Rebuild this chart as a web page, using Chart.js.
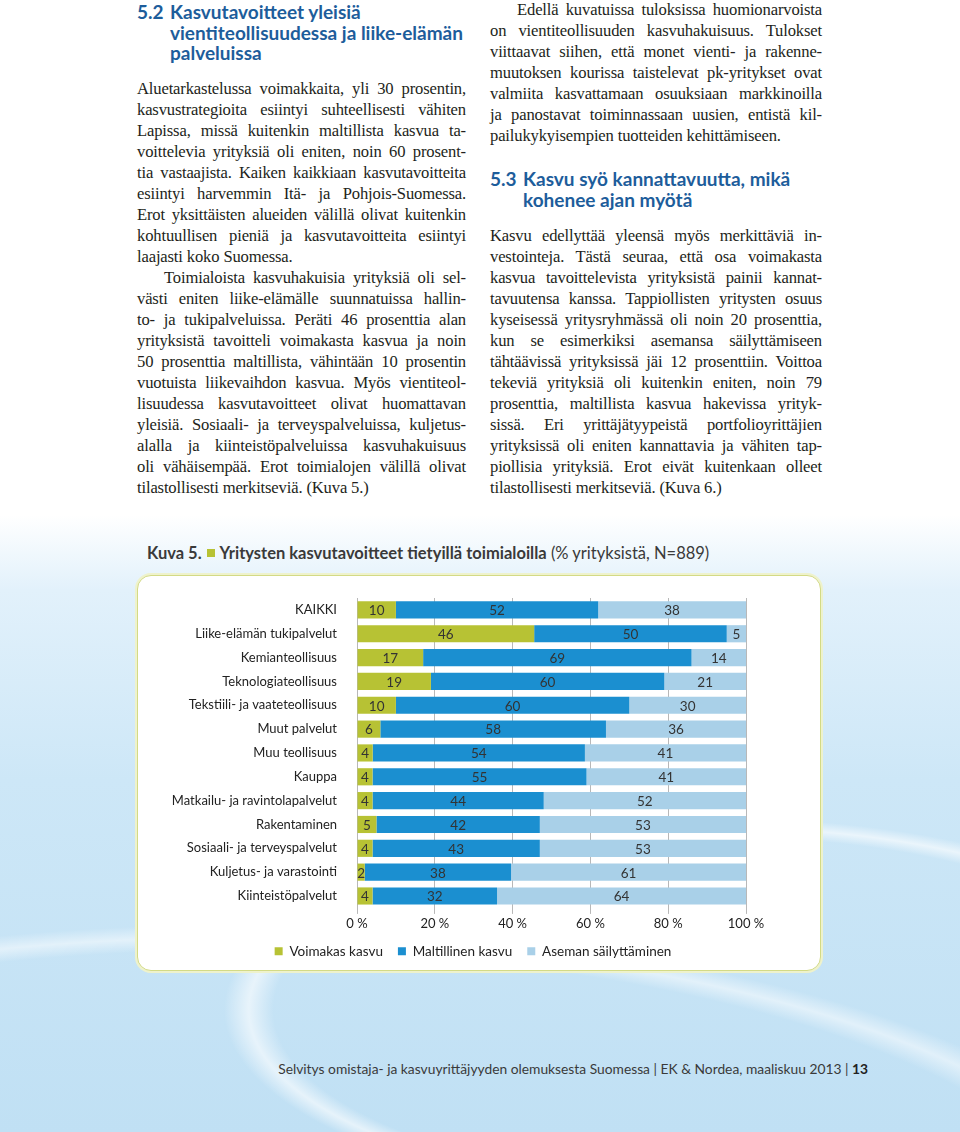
<!DOCTYPE html>
<html lang="fi">
<head>
<meta charset="utf-8">
<script src="https://cdn.jsdelivr.net/npm/chart.js@4.4.0/dist/chart.umd.min.js"></script>
<style>
body{margin:0;width:960px;height:1132px;position:relative;overflow:hidden;
  background:
   radial-gradient(ellipse 620px 240px at 75% 1010px, rgba(255,255,255,0) 72%, rgba(255,255,255,.6) 76%, rgba(255,255,255,0) 80%),
   radial-gradient(ellipse 1200px 430px at 25% 1260px, rgba(255,255,255,0) 72%, rgba(255,255,255,.5) 75%, rgba(255,255,255,0) 78%),
   linear-gradient(180deg,#fff 0,#fff 515px,#e2f1fb 590px,#cde7f7 780px,#c0e0f4 1132px);}
.col{position:absolute;font-family:"Liberation Serif","Times New Roman",serif;font-size:16.6px;letter-spacing:-0.15px;color:#231f20;}
.ln{height:21px;line-height:21px;text-align:justify;text-align-last:justify;overflow:visible;}
.ln.end{text-align-last:left;}
.ln.ind{text-indent:27px;}
.hd{position:absolute;font-family:Lato,sans-serif;font-weight:700;font-size:19px;color:#1d5d9b;line-height:20.5px;white-space:nowrap;}
.hd .n{display:inline-block;width:33px;}
.hd .r{padding-left:33px;}
.cap{position:absolute;left:147px;top:543px;font-family:Lato,sans-serif;font-size:16.5px;color:#3a3a3a;white-space:nowrap;}
.cap b{font-weight:700;}
.cap .sq{display:inline-block;width:8px;height:8px;background:#b7c234;margin:0 5px 2px 5px;}
.box{position:absolute;left:137px;top:575px;width:682px;height:394px;background:#fff;border:1.5px solid #d3da86;border-radius:14px;box-shadow:0 0 0 2px #eef2cc;}
#wrap{position:absolute;left:138px;top:577px;width:684px;height:391px;}
.foot{position:absolute;right:92px;top:1060px;font-family:Lato,sans-serif;font-size:13.8px;color:#3a3a3a;white-space:nowrap;}
.foot b{font-weight:700;color:#222;}
</style>
</head>
<body>

<div class="hd" style="left:137px;top:2px;">
  <div><span class="n">5.2</span>Kasvutavoitteet yleisiä</div>
  <div class="r">vientiteollisuudessa ja liike-elämän</div>
  <div class="r">palveluissa</div>
</div>

<div class="col" style="left:137px;top:77.5px;width:329px;">
  <div class="ln">Aluetarkastelussa voimakkaita, yli 30 prosentin,</div>
  <div class="ln">kasvustrategioita esiintyi suhteellisesti vähiten</div>
  <div class="ln">Lapissa, missä kuitenkin maltillista kasvua ta-</div>
  <div class="ln">voittelevia yrityksiä oli eniten, noin 60 prosent-</div>
  <div class="ln">tia vastaajista. Kaiken kaikkiaan kasvutavoitteita</div>
  <div class="ln">esiintyi harvemmin Itä- ja Pohjois-Suomessa.</div>
  <div class="ln">Erot yksittäisten alueiden välillä olivat kuitenkin</div>
  <div class="ln">kohtuullisen pieniä ja kasvutavoitteita esiintyi</div>
  <div class="ln end">laajasti koko Suomessa.</div>
  <div class="ln ind">Toimialoista kasvuhakuisia yrityksiä oli sel-</div>
  <div class="ln">västi eniten liike-elämälle suunnatuissa hallin-</div>
  <div class="ln">to- ja tukipalveluissa. Peräti 46 prosenttia alan</div>
  <div class="ln">yrityksistä tavoitteli voimakasta kasvua ja noin</div>
  <div class="ln">50 prosenttia maltillista, vähintään 10 prosentin</div>
  <div class="ln">vuotuista liikevaihdon kasvua. Myös vientiteol-</div>
  <div class="ln">lisuudessa kasvutavoitteet olivat huomattavan</div>
  <div class="ln">yleisiä. Sosiaali- ja terveyspalveluissa, kuljetus-</div>
  <div class="ln">alalla ja kiinteistöpalveluissa kasvuhakuisuus</div>
  <div class="ln">oli vähäisempää. Erot toimialojen välillä olivat</div>
  <div class="ln end">tilastollisesti merkitseviä. (Kuva 5.)</div>
</div>

<div class="col" style="left:490px;top:-1.5px;width:332px;">
  <div class="ln ind">Edellä kuvatuissa tuloksissa huomionarvoista</div>
  <div class="ln">on vientiteollisuuden kasvuhakuisuus. Tulokset</div>
  <div class="ln">viittaavat siihen, että monet vienti- ja rakenne-</div>
  <div class="ln">muutoksen kourissa taistelevat pk-yritykset ovat</div>
  <div class="ln">valmiita kasvattamaan osuuksiaan markkinoilla</div>
  <div class="ln">ja panostavat toiminnassaan uusien, entistä kil-</div>
  <div class="ln end">pailukykyisempien tuotteiden kehittämiseen.</div>
</div>

<div class="hd" style="left:490px;top:169px;">
  <div><span class="n">5.3</span>Kasvu syö kannattavuutta, mikä</div>
  <div class="r">kohenee ajan myötä</div>
</div>

<div class="col" style="left:490px;top:224.5px;width:332px;">
  <div class="ln">Kasvu edellyttää yleensä myös merkittäviä in-</div>
  <div class="ln">vestointeja. Tästä seuraa, että osa voimakasta</div>
  <div class="ln">kasvua tavoittelevista yrityksistä painii kannat-</div>
  <div class="ln">tavuutensa kanssa. Tappiollisten yritysten osuus</div>
  <div class="ln">kyseisessä yritysryhmässä oli noin 20 prosenttia,</div>
  <div class="ln">kun se esimerkiksi asemansa säilyttämiseen</div>
  <div class="ln">tähtäävissä yrityksissä jäi 12 prosenttiin. Voittoa</div>
  <div class="ln">tekeviä yrityksiä oli kuitenkin eniten, noin 79</div>
  <div class="ln">prosenttia, maltillista kasvua hakevissa yrityk-</div>
  <div class="ln">sissä. Eri yrittäjätyypeistä portfolioyrittäjien</div>
  <div class="ln">yrityksissä oli eniten kannattavia ja vähiten tap-</div>
  <div class="ln">piollisia yrityksiä. Erot eivät kuitenkaan olleet</div>
  <div class="ln end">tilastollisesti merkitseviä. (Kuva 6.)</div>
</div>

<div class="cap"><b>Kuva 5.</b><span class="sq"></span><b>Yritysten kasvutavoitteet tietyillä toimialoilla</b> (% yrityksistä, N=889)</div>

<div class="box"></div>
<div id="wrap"><canvas id="kuva5"></canvas></div>

<div class="foot">Selvitys omistaja- ja kasvuyrittäjyyden olemuksesta Suomessa | EK &amp; Nordea, maaliskuu 2013 | <b>13</b></div>

<script>
//Toimialat (ylhäältä alas)
const categories = [
  'KAIKKI',
  'Liike-elämän tukipalvelut',
  'Kemianteollisuus',
  'Teknologiateollisuus',
  'Tekstiili- ja vaateteollisuus',
  'Muut palvelut',
  'Muu teollisuus',
  'Kauppa',
  'Matkailu- ja ravintolapalvelut',
  'Rakentaminen',
  'Sosiaali- ja terveyspalvelut',
  'Kuljetus- ja varastointi',
  'Kiinteistöpalvelut'
];

//Osuudet prosentteina
const voimakas = [10, 46, 17, 19, 10, 6, 4, 4, 4, 5, 4, 2, 4];
const maltillinen = [52, 50, 69, 60, 60, 58, 54, 55, 44, 42, 43, 38, 32];
const aseman = [38, 5, 14, 21, 30, 36, 41, 41, 52, 53, 53, 61, 64];

const seriesNames = ['Voimakas kasvu', 'Maltillinen kasvu', 'Aseman säilyttäminen'];
const xTickValues = [0, 20, 40, 60, 80, 100];

//Colors
const green = '#b7c234';
const blue = '#1b8fd0';
const lightBlue = '#a9d0e8';
const textColor = '#2b2b2b';

//100 % pinottu: jokainen rivi skaalataan summaansa
const totals = categories.map((c, i) => voimakas[i] + maltillinen[i] + aseman[i]);
const share = (arr) => arr.map((v, i) => (v / totals[i]) * 100);

Chart.defaults.font.family = 'Lato, sans-serif';
Chart.defaults.font.size = 13;
Chart.defaults.color = textColor;

//Arvot palkkien keskelle
const barLabels = {
  id: 'barLabels',
  afterDatasetsDraw(chart) {
    const ctx = chart.ctx;
    ctx.save();
    ctx.font = '13.5px Lato, sans-serif';
    ctx.fillStyle = '#333';
    ctx.textAlign = 'center';
    ctx.textBaseline = 'middle';
    chart.data.datasets.forEach((ds, di) => {
      chart.getDatasetMeta(di).data.forEach((bar, i) => {
        ctx.fillText(ds.raw[i], (bar.x + bar.base) / 2, bar.y + 1);
      });
    });
    ctx.restore();
  },
};

const makeSet = (label, values, color) => ({
  label: label,
  data: share(values),
  raw: values,
  backgroundColor: color,
  borderWidth: 0,
  barPercentage: 0.72,
  categoryPercentage: 1,
});

new Chart('kuva5', {
  type: 'bar',
  data: {
    labels: categories,
    datasets: [
      makeSet(seriesNames[0], voimakas, green),
      makeSet(seriesNames[1], maltillinen, blue),
      makeSet(seriesNames[2], aseman, lightBlue),
    ],
  },
  options: {
    indexAxis: 'y',
    responsive: true,
    maintainAspectRatio: false,
    animation: false,
    layout: { padding: { top: 21, right: 14, bottom: 0, left: 0 } },
    plugins: {
      legend: {
        position: 'bottom',
        labels: {
          boxWidth: 8,
          boxHeight: 8,
          padding: 15,
          color: '#222',
          font: { size: 13.5 },
        },
      },
      tooltip: { enabled: false },
    },
    scales: {
      x: {
        stacked: true,
        min: 0,
        max: 100,
        afterBuildTicks: (axis) => {
          axis.ticks = xTickValues.map((v) => ({ value: v }));
        },
        //pull the legend a bit closer to the tick labels
        afterFit: (axis) => {
          axis.height -= 4;
        },
        ticks: {
          padding: 2,
          color: '#222',
          callback: (v) => v + ' %',
        },
        grid: { color: '#b8b8b8', lineWidth: 1, tickLength: 6 },
        border: { display: false },
      },
      y: {
        stacked: true,
        afterFit: (axis) => {
          axis.width = 219;
        },
        ticks: { padding: 12, color: '#222', font: { size: 13 } },
        grid: { display: false },
        border: { display: false },
      },
      //leave room on the right like the original
      yRight: {
        type: 'category',
        position: 'right',
        labels: categories,
        afterFit: (axis) => {
          axis.width = 62;
        },
        ticks: { display: false },
        grid: { display: false },
        border: { display: false },
      },
    },
  },
  plugins: [barLabels],
});
</script>
</body>
</html>
